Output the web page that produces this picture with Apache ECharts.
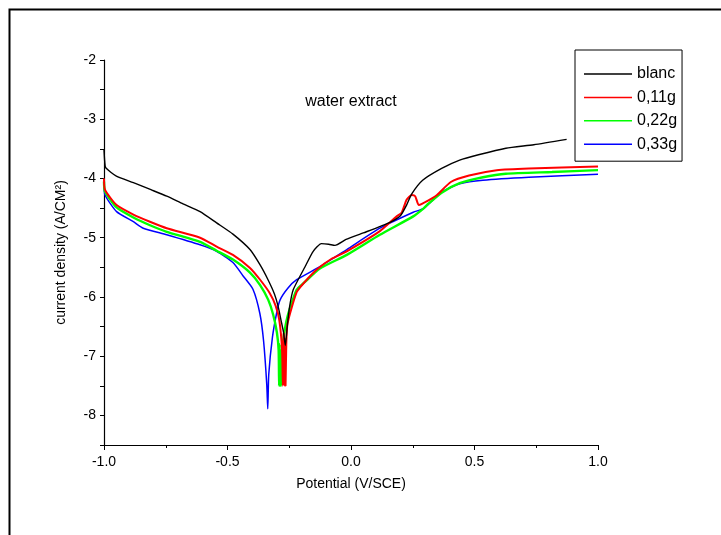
<!DOCTYPE html>
<html><head><meta charset="utf-8">
<script src="https://cdn.jsdelivr.net/npm/echarts@6/dist/echarts.min.js"></script>
<style>html,body{margin:0;padding:0;background:#fff}#c{width:721px;height:535px}</style>
</head><body><div id="c"></div>
<script>
const seriesNames = ['blanc', '0,11g', '0,22g', '0,33g'];
const blanc = [[-1.0,-3.52],[-0.997,-3.72],[-0.993,-3.82],[-0.95,-3.96],[-0.881,-4.07],[-0.81,-4.19],[-0.746,-4.30],[-0.68,-4.43],[-0.611,-4.56],[-0.544,-4.75],[-0.478,-4.94],[-0.409,-5.20],[-0.368,-5.46],[-0.336,-5.71],[-0.31,-5.95],[-0.295,-6.16],[-0.283,-6.4],[-0.273,-6.6],[-0.266,-6.82],[-0.258,-6.5],[-0.25,-6.2],[-0.234,-5.88],[-0.186,-5.49],[-0.153,-5.23],[-0.12,-5.10],[-0.09,-5.11],[-0.065,-5.13],[-0.02,-5.03],[0.05,-4.92],[0.158,-4.74],[0.20,-4.63],[0.225,-4.45],[0.246,-4.26],[0.29,-4.03],[0.367,-3.83],[0.44,-3.69],[0.516,-3.60],[0.627,-3.49],[0.74,-3.43],[0.873,-3.34]];
const g011 = [[-1.0,-4.0],[-0.996,-4.19],[-0.949,-4.45],[-0.881,-4.61],[-0.814,-4.73],[-0.746,-4.84],[-0.611,-5.0],[-0.544,-5.15],[-0.478,-5.29],[-0.409,-5.51],[-0.368,-5.71],[-0.33,-5.93],[-0.305,-6.15],[-0.29,-6.4],[-0.279,-6.9],[-0.276,-7.5],[-0.273,-6.6],[-0.270,-7.5],[-0.267,-6.7],[-0.265,-7.5],[-0.262,-6.8],[-0.257,-6.45],[-0.22,-5.92],[-0.19,-5.76],[-0.136,-5.53],[-0.08,-5.36],[-0.017,-5.23],[0.117,-4.89],[0.185,-4.64],[0.205,-4.58],[0.225,-4.36],[0.246,-4.28],[0.26,-4.30],[0.275,-4.45],[0.31,-4.38],[0.348,-4.28],[0.404,-4.06],[0.478,-3.95],[0.59,-3.86],[0.72,-3.83],[1.0,-3.80]];
const g022 = [[-1.0,-4.05],[-0.996,-4.22],[-0.949,-4.49],[-0.881,-4.66],[-0.814,-4.79],[-0.746,-4.90],[-0.611,-5.07],[-0.544,-5.22],[-0.478,-5.37],[-0.409,-5.59],[-0.368,-5.80],[-0.335,-6.05],[-0.315,-6.3],[-0.30,-6.6],[-0.293,-6.9],[-0.291,-7.5],[-0.289,-6.8],[-0.287,-7.5],[-0.285,-6.9],[-0.283,-7.5],[-0.280,-7.0],[-0.275,-6.74],[-0.257,-6.33],[-0.22,-5.88],[-0.19,-5.76],[-0.126,-5.52],[-0.017,-5.29],[0.117,-4.95],[0.252,-4.64],[0.293,-4.51],[0.31,-4.44],[0.367,-4.24],[0.44,-4.08],[0.534,-3.98],[0.627,-3.92],[0.814,-3.89],[1.0,-3.86]];
const g033 = [[-1.0,-4.09],[-0.996,-4.28],[-0.949,-4.56],[-0.881,-4.73],[-0.841,-4.84],[-0.746,-4.95],[-0.611,-5.12],[-0.544,-5.23],[-0.478,-5.42],[-0.436,-5.65],[-0.397,-5.87],[-0.369,-6.28],[-0.354,-6.74],[-0.341,-7.48],[-0.337,-7.89],[-0.333,-7.31],[-0.318,-6.68],[-0.30,-6.25],[-0.287,-6.05],[-0.255,-5.85],[-0.22,-5.71],[-0.126,-5.49],[-0.017,-5.20],[0.117,-4.84],[0.252,-4.57],[0.293,-4.51],[0.333,-4.36],[0.376,-4.21],[0.44,-4.09],[0.534,-4.03],[0.72,-3.98],[1.0,-3.93]];
const xTicks = [-1.0, -0.5, 0.0, 0.5, 1.0];
const yTicks = [-8, -7, -6, -5, -4, -3, -2];

const colors = ['#000000', '#ff0000', '#00ff00', '#0000ff'];
const widths = [1.4, 2, 2.4, 1.5];
const datas = [blanc, g011, g022, g033];
const font = 'Arial, "Liberation Sans", sans-serif';

const chart = echarts.init(document.getElementById('c'));
chart.setOption({
  animation: false,
  backgroundColor: '#fff',
  textStyle: { fontFamily: font },
  grid: { left: 104, right: 123, top: 60, bottom: 90 },
  graphic: [
    { type: 'rect', shape: { x: 9.5, y: 9.5, width: 730, height: 540 }, style: { fill: 'none', stroke: '#000', lineWidth: 2 }, silent: true },
    { type: 'text', x: 351, y: 102, style: { text: 'water extract', font: '16px ' + font, fill: '#000', textAlign: 'center', textVerticalAlign: 'middle' } }
  ],
  legend: {
    orient: 'vertical', left: 575, top: 50,
    data: seriesNames,
    borderColor: '#000', borderWidth: 1,
    padding: [16, 5, 9, 9],
    itemGap: 7.4, itemWidth: 48, itemHeight: 1.5, icon: 'rect',
    textStyle: { fontSize: 16, color: '#000', fontFamily: font }
  },
  xAxis: {
    type: 'value', min: -1, max: 1, interval: 0.5,
    name: 'Potential (V/SCE)', nameLocation: 'middle', nameGap: 32,
    nameTextStyle: { fontSize: 14, color: '#000' },
    axisLine: { show: true, onZero: false, lineStyle: { color: '#000', width: 1.2 } },
    axisTick: { show: true, inside: false, length: 5, lineStyle: { color: '#000' } },
    minorTick: { show: true, splitNumber: 2, length: 3, lineStyle: { color: '#000' } },
    splitLine: { show: false },
    axisLabel: { fontSize: 14, color: '#000', margin: 10, formatter: v => xTicks.indexOf(v) >= 0 ? v.toFixed(1) : '' }
  },
  yAxis: {
    type: 'value', min: -8.5, max: -2, interval: 0.5,
    name: 'current density (A/CM²)', nameLocation: 'middle', nameGap: 36,
    nameTextStyle: { fontSize: 14, color: '#000' },
    axisLine: { show: true, onZero: false, lineStyle: { color: '#000', width: 1.2 } },
    axisTick: { show: true, inside: false, length: 4, lineStyle: { color: '#000' } },
    splitLine: { show: false },
    axisLabel: { fontSize: 14, color: '#000', margin: 8, formatter: v => yTicks.indexOf(v) >= 0 ? String(v) : '' }
  },
  series: datas.map((d, i) => ({
    name: seriesNames[i], type: 'line', data: d, showSymbol: false, symbol: 'none',
    smooth: 0.2, color: colors[i],
    lineStyle: { color: colors[i], width: widths[i] }, z: 10 - i
  }))
});
</script></body></html>
